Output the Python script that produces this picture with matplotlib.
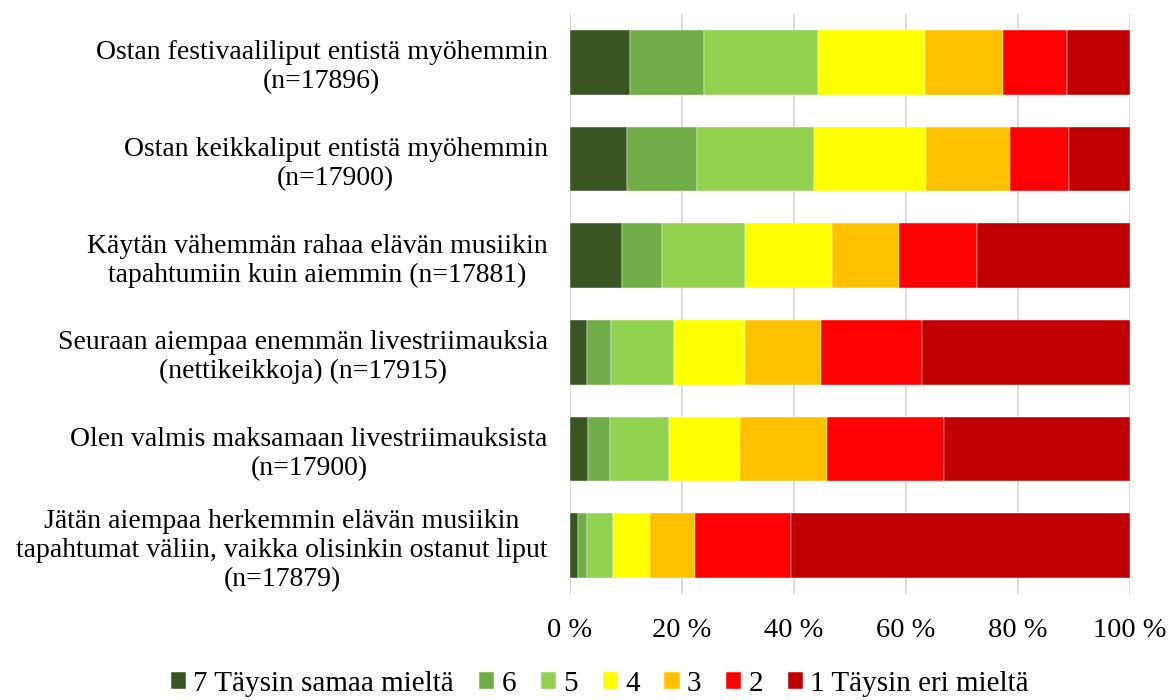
import matplotlib
matplotlib.use("Agg")
import matplotlib.pyplot as plt
import numpy as np

categories = [
    "Ostan festivaaliliput entistä myöhemmin\n(n=17896)",
    "Ostan keikkaliput entistä myöhemmin\n(n=17900)",
    "Käytän vähemmän rahaa elävän musiikin\ntapahtumiin kuin aiemmin (n=17881)",
    "Seuraan aiempaa enemmän livestriimauksia\n(nettikeikkoja) (n=17915)",
    "Olen valmis maksamaan livestriimauksista\n(n=17900)",
    "Jätän aiempaa herkemmin elävän musiikin\ntapahtumat väliin, vaikka olisinkin ostanut liput\n(n=17879)",
]
series_names = ["7 Täysin samaa mieltä", "6", "5", "4", "3", "2", "1 Täysin eri mieltä"]
s7 = [10.8, 10.2, 9.2, 3.1, 3.3, 1.4]
s6 = [13.2, 12.4, 7.3, 4.2, 3.9, 1.7]
s5 = [20.2, 21.0, 14.8, 11.2, 10.5, 4.6]
s4 = [19.2, 20.0, 15.5, 12.7, 12.7, 6.6]
s3 = [13.9, 14.9, 11.9, 13.7, 15.5, 8.1]
s2 = [11.4, 10.6, 13.9, 17.9, 20.9, 17.0]
s1 = [11.3, 10.9, 27.4, 37.2, 33.2, 60.6]
colors = ["#375623", "#70AD47", "#92D050", "#FFFF00", "#FFC000", "#FF0000", "#C00000"]
xticks = [0, 20, 40, 60, 80, 100]
xticklabels = ["0 %", "20 %", "40 %", "60 %", "80 %", "100 %"]

plt.rcParams['font.family'] = ['Liberation Serif', 'DejaVu Serif']

fig = plt.figure(figsize=(11.71, 7.0), dpi=100)
ax = fig.add_axes([570/1171, 1 - 594/700, 560/1171, 580/700])

data = [s7, s6, s5, s4, s3, s2, s1]
y = np.arange(len(categories))
left = np.zeros(len(categories))
for name, vals, c in zip(series_names, data, colors):
    vals = np.array(vals)
    ax.barh(y, vals, left=left, height=0.67, color=c, label=name,
            edgecolor="white", linewidth=0.3, zorder=3)
    left += vals

FS = 20
ax.set_xlim(0, 100)
ax.set_ylim(len(categories) - 0.5, -0.5)
ax.set_yticks(y)
ax.set_yticklabels(categories, fontsize=FS, ha="right", multialignment="center", linespacing=1.2)
ax.tick_params(axis="y", length=0, pad=16)
ax.set_xticks(xticks)
ax.set_xticklabels(xticklabels, fontsize=20.5)
ax.tick_params(axis="x", length=0, pad=17)
ax.grid(axis="x", color="#d9d9d9", linewidth=1.3, zorder=0)
for s in ax.spines.values():
    s.set_visible(False)

handles, labels = ax.get_legend_handles_labels()
leg = fig.legend(handles, labels, loc="center", bbox_to_anchor=(600/1171, 1 - 684/700),
                 ncol=7, frameon=False, fontsize=21, handlelength=0.52, handleheight=0.52,
                 handletextpad=0.25, columnspacing=0.85)

fig.savefig("out.png", dpi=100)
